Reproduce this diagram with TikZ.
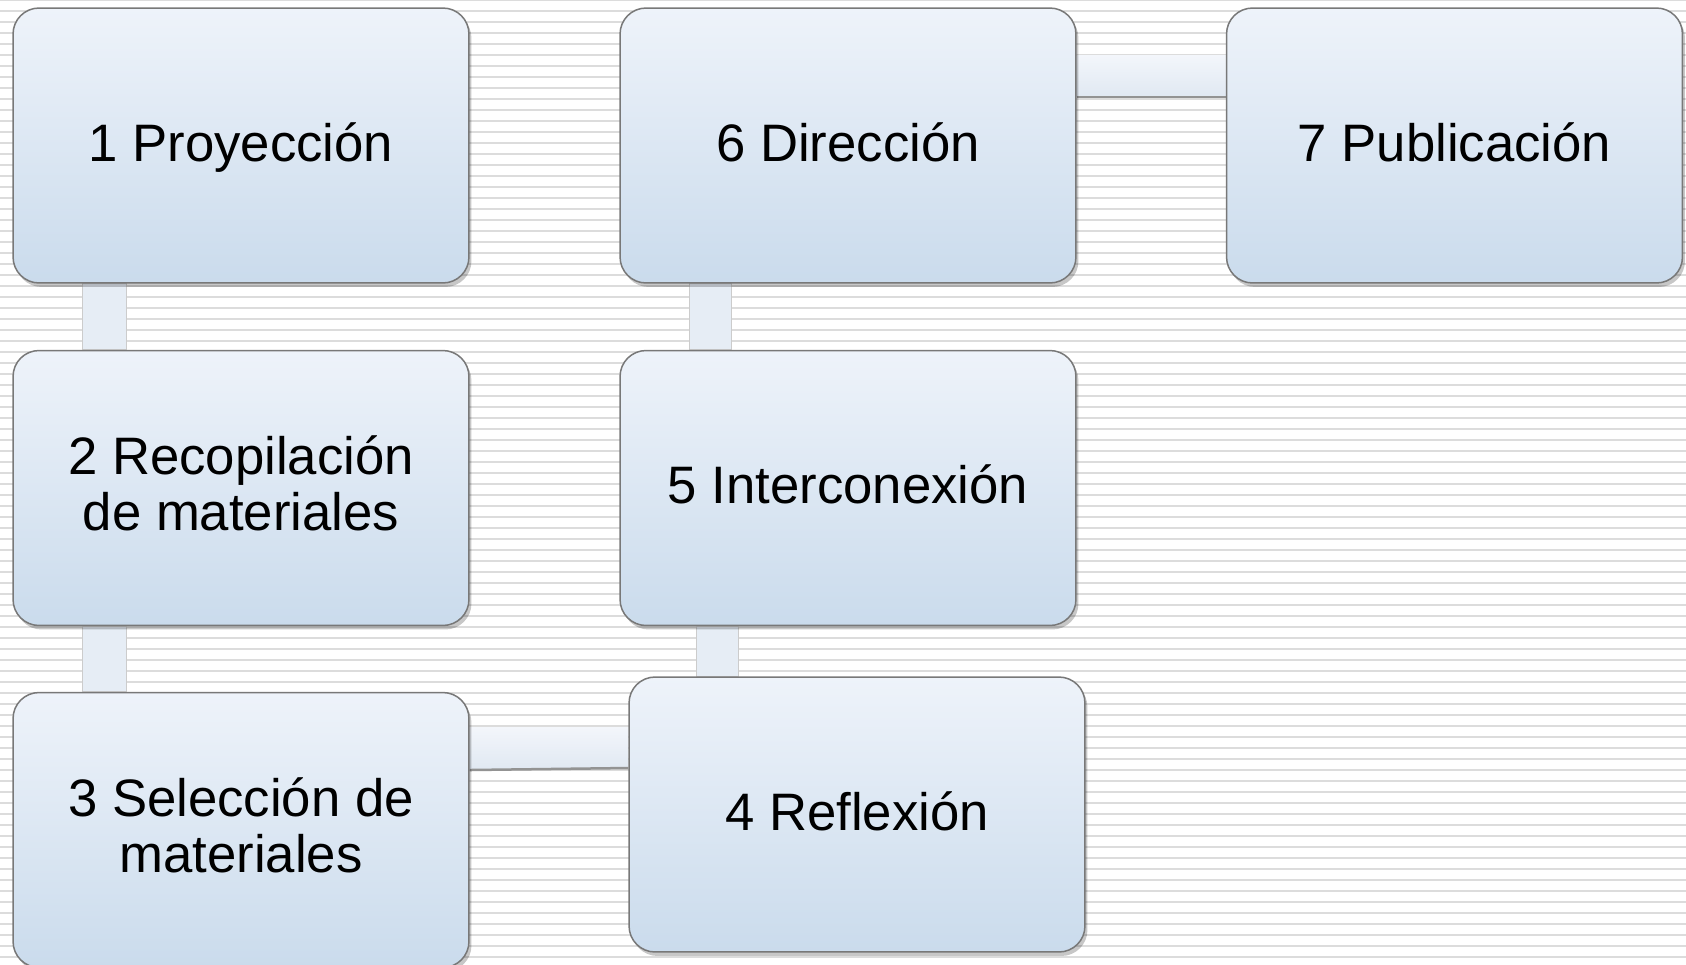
\documentclass[tikz,border=0pt]{standalone}
\usepackage{fontspec}
\setmainfont{Liberation Sans}
\usepackage{xcolor}
\usepackage{tikz}
\usetikzlibrary{shadows}
\usetikzlibrary{calc}
\definecolor{boxtop}{HTML}{EEF3FA}
\definecolor{boxbot}{HTML}{CADBEC}
\definecolor{boxline}{HTML}{787878}
\definecolor{linkfill}{HTML}{E6EDF5}
\definecolor{linktop}{HTML}{F3F6FB}
\definecolor{linkbot}{HTML}{E0E8F2}
\definecolor{stripegray}{HTML}{DCDCDC}
\newcommand{\padlast}{\rule[-5.5pt]{0pt}{0pt}}
\pgfdeclarelayer{bg}
\pgfdeclarelayer{links}
\pgfsetlayers{bg,links,main}
\tikzset{
    stepbox/.style={draw=boxline, line width=0.03cm, rounded corners=0.52cm,
        top color=boxtop, bottom color=boxbot,
        minimum width=9.12cm, minimum height=5.5cm, inner sep=0pt,
        align=center, font=\fontsize{30}{32}\selectfont,
        drop shadow={shadow xshift=0.05cm, shadow yshift=-0.08cm, fill=black, opacity=0.22}},
    oneline/.style={text height=24pt, text depth=6.2pt},
    vlink/.style={fill=linkfill, draw=gray!40, line width=0.02cm},
    hlink/.style={top color=linktop, bottom color=linkbot, draw=none},
    hedge/.style={draw=gray!85, line width=0.05cm},
    stripe/.style={draw=stripegray, line width=0.05cm}}

\begin{document}
\begin{tikzpicture}[x=0.02cm, y=-0.02cm]
\useasboundingbox (0,0) rectangle (1686,964);

\begin{pgfonlayer}{bg}
\fill[white] (0,0) rectangle (1686,964);
\foreach \k in {0,...,88}
  \draw[stripe] (0,11*\k) -- (1686,11*\k);
\end{pgfonlayer}

% boxes
\node[stepbox, oneline] (p1) at (241,145.5) {1 Proyección};
\node[stepbox] (p2) at (241,488) {2 Recopilación\\de materiales\padlast};
\node[stepbox] (p3) at (241,830) {3 Selección de\\materiales\padlast};
\node[stepbox, oneline] (p4) at (857,814.5) {4 Reflexión};
\node[stepbox, oneline] (p5) at (848,488) {5 Interconexión};
\node[stepbox, oneline] (p6) at (848,145.5) {6 Dirección};
\node[stepbox, oneline] (p7) at (1454.5,145.5) {7 Publicación};

% connectors
\begin{pgfonlayer}{links}
\path[vlink] ([xshift=1.4cm]p1.south west) rectangle ([xshift=2.28cm]p2.north west);
\path[vlink] ([xshift=1.4cm]p2.south west) rectangle ([xshift=2.28cm]p3.north west);
\path[hlink] ([yshift=2.06cm]p3.east) -- ([yshift=1.75cm]p4.west)
  -- ([yshift=0.93cm]p4.west) -- ([yshift=1.2cm]p3.east) -- cycle;
\draw[hedge] ([yshift=1.2cm]p3.east) -- ([yshift=0.93cm]p4.west);
\path[vlink] ([xshift=1.55cm]p5.south west) rectangle ([xshift=2.2cm]p4.north west);
\path[vlink] ([xshift=1.41cm]p6.south west) rectangle ([xshift=2.25cm]p5.north west);
\path[hlink] ([yshift=1.81cm]p6.east) rectangle ([yshift=0.97cm]p7.west);
\draw[hedge] ([yshift=0.97cm]p6.east) -- ([yshift=0.97cm]p7.west);
\end{pgfonlayer}
\end{tikzpicture}
\end{document}
